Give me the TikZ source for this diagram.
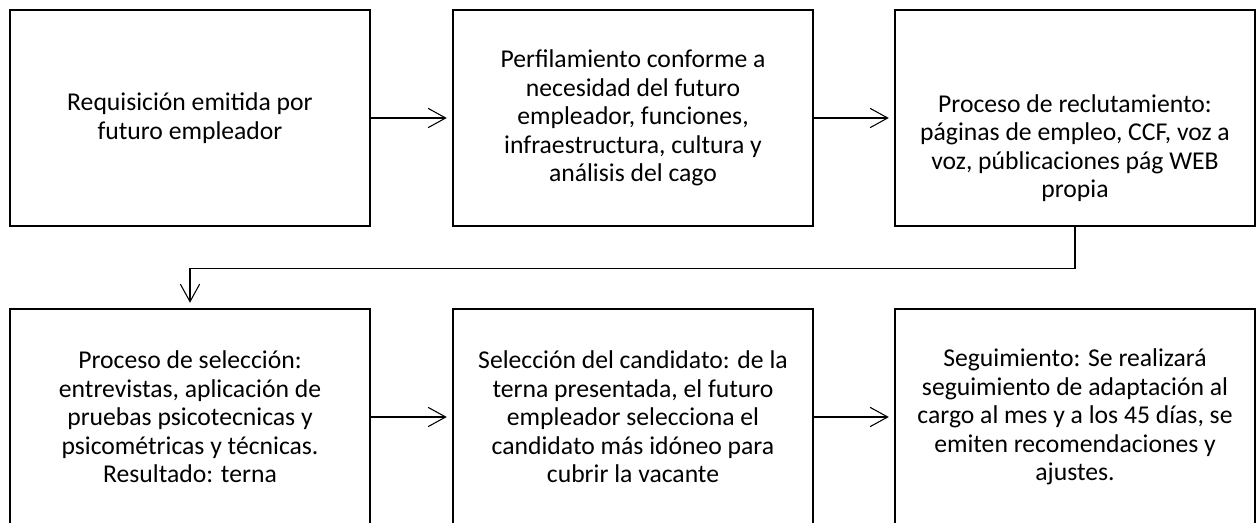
\documentclass[tikz,border=0pt]{standalone}
\usepackage{fontspec}
\setmainfont{Carlito}
\usetikzlibrary{arrows.meta}

\tikzset{
    stepbox/.style={draw, line width=1.1pt, minimum width=7.2cm, minimum height=4.32cm,
        align=center, inner sep=0pt, font=\fontsize{14.6}{16.2}\selectfont},
    steptext/.style={align=center, inner sep=0pt, font=\fontsize{14.6}{16.2}\selectfont},
    flow/.style={line width=0.6pt, -{Straight Barb[length=10pt,width=11pt]}, shorten >=3pt}
}

\begin{document}
\begin{tikzpicture}

        \useasboundingbox (0,0) rectangle (25.18,-10.46);
        \clip (0,0) rectangle (25.18,-10.46);

        \node [stepbox] (requis) at (3.8,-2.36) {Requisición emitida por\\futuro empleador};
        \node [stepbox] (perfil) at (12.66,-2.36) {Perfilamiento conforme a\\necesidad del futuro\\empleador, funciones,\\infraestructura, cultura y\\análisis del cago};
        \node [stepbox] (recl) at (21.5,-2.36) {};
        \node [steptext, yshift=-0.6cm] (recltext) at (recl.center) {Proceso de reclutamiento:\\páginas de empleo, CCF, voz a\\voz, públicaciones pág WEB\\propia};

        \node [stepbox] (selec) at (3.8,-8.34) {Proceso de selección:\\entrevistas, aplicación de\\pruebas psicotecnicas y\\psicométricas y técnicas.\\Resultado: terna};
        \node [stepbox] (cand) at (12.66,-8.34) {Selección del candidato: de la\\terna presentada, el futuro\\empleador selecciona el\\candidato más idóneo para\\cubrir la vacante};
        \node [stepbox] (segui) at (21.5,-8.34) {Seguimiento: Se realizará\\seguimiento de adaptación al\\cargo al mes y a los 45 días, se\\emiten recomendaciones y\\ajustes.};

        \draw [flow] (requis) -- (perfil);
        \draw [flow] (perfil) -- (recl);
        \draw [flow] (recl.south) -- ++(0,-0.84) -| (selec.north);

        \draw [flow] (selec) -- (cand);
        \draw [flow] (cand) -- (segui);

\end{tikzpicture}
\end{document}
